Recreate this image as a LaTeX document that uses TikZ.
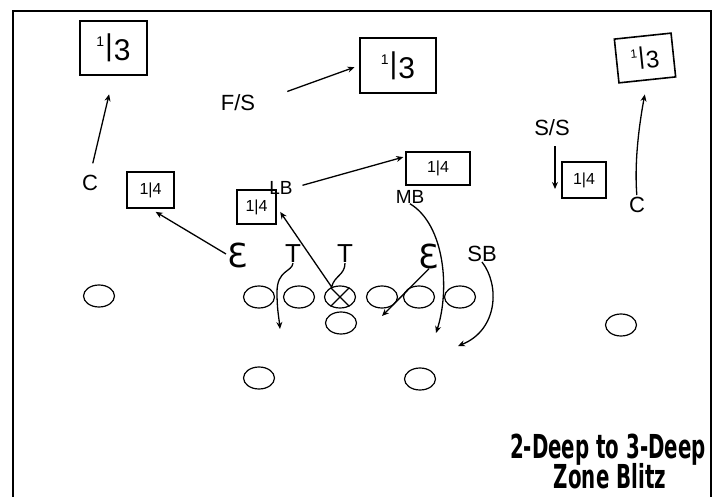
\documentclass[tikz,border=0pt]{standalone}
\usepackage{fontspec}
\setmainfont{Liberation Sans}
\newfontfamily\titlefont{DejaVu Sans}
\newfontfamily\epsfont{DejaVu Sans}
\usetikzlibrary{shapes.geometric,arrows.meta,calc}
\newcommand\myThird{{\fontsize{14}{14}\selectfont\raisebox{9pt}{1}}\kern1pt{\fontsize{30}{30}\selectfont|\kern1pt\raisebox{-5pt}{3}}}
\newcommand\mySmallThird{{\fontsize{12}{12}\selectfont\raisebox{7pt}{1}}\kern1pt{\fontsize{24}{24}\selectfont|\kern1pt\raisebox{-4pt}{3}}}
\newcommand\myQuarter{{\fontsize{16}{16}\selectfont 1|4}}
\begin{document}
\begin{tikzpicture}[x=1pt,y=-1pt,
  zone/.style={draw, line width=1.6pt, inner sep=0pt},
  pl/.style={draw, ellipse, line width=1.2pt, minimum width=31pt, minimum height=22pt, inner sep=0pt},
  hand/.style={inner sep=0pt, font=\fontsize{22}{22}\selectfont},
  arr/.style={line width=1.3pt, -{Stealth[length=7pt,width=6pt]}},
  curv/.style={line width=1.3pt, -{Stealth[length=7pt,width=6pt]}},
  ttl/.style={inner sep=0pt, anchor=base, font=\titlefont\bfseries\fontsize{33}{33}\selectfont}]
\useasboundingbox (0,0) rectangle (712,497);
\fill[white] (0,0) rectangle (712,497);
% frame
\coordinate (f1) at (13,497);
\coordinate (f2) at (13,11);
\coordinate (f3) at (711,11);
\coordinate (f4) at (711,497);
\draw[line width=2pt] (f1) -- (f2) -- (f3) -- (f4);
% zone boxes
\node[zone, minimum width=67pt, minimum height=54pt] (b13L) at (113.5,48) {\myThird};
\node[zone, minimum width=76pt, minimum height=55pt] (b13C) at (398,65.5) {\myThird};
\node[zone, minimum width=57pt, minimum height=44pt, rotate=6] (b13R) at (645,58) {\mySmallThird};
\node[zone, minimum width=47pt, minimum height=36pt] (b14L) at (150.5,190) {\myQuarter};
\node[zone, minimum width=39pt, minimum height=34pt] (b14LB) at (256.5,207) {\myQuarter};
\node[zone, minimum width=64pt, minimum height=33pt] (b14MB) at (438,168.5) {\myQuarter};
\node[zone, minimum width=44pt, minimum height=36pt] (b14SS) at (584,180) {\myQuarter};
% defender labels
\node[hand] (FS) at (238,103) {F/S};
\node[hand] (SS) at (552,128) {S/S};
\node[hand] (CL) at (90,183) {C};
\node[hand] (CR) at (637,205) {C};
\node[hand, font=\fontsize{19}{19}\selectfont] (LB) at (281,188) {LB};
\node[hand, font=\fontsize{19}{19}\selectfont] (MB) at (410,197) {MB};
\node[hand, font=\epsfont\fontsize{33}{33}\selectfont] (EL) at (238,255) {Ɛ};
\node[hand, font=\fontsize{26}{26}\selectfont] (TL) at (293,254) {T};
\node[hand, font=\fontsize{26}{26}\selectfont] (TR) at (345,254) {T};
\node[hand, font=\epsfont\fontsize{33}{33}\selectfont] (ER) at (429,256) {Ɛ};
\node[hand] (SB) at (482,254) {SB};
% offense
\node[pl] (o1) at (99,296) {};
\node[pl] (o2) at (259,297) {};
\node[pl] (o3) at (299,297) {};
\node[pl] (X) at (340,297) {};
\node[pl] (o5) at (382,297) {};
\node[pl] (o6) at (419,297) {};
\node[pl] (o7) at (460,297) {};
\node[pl] (qb) at (341,323) {};
\node[pl] (o9) at (621,325) {};
\node[pl] (rb1) at (259,378) {};
\node[pl] (rb2) at (420,379) {};
\draw[line width=1.2pt] (X.45) -- (X.225) (X.135) -- (X.315);
% free ends
\coordinate (tlEnd) at (280,329);
\coordinate (erEnd) at (382,316);
\coordinate (mbEnd) at (436,333);
\coordinate (sbEnd) at (458,346);
\coordinate (ssEnd) at (555,189);
% connectors
\draw[arr, shorten <=12pt, shorten >=19pt] (CL.north) -- (b13L.south);
\draw[arr, shorten <=34pt, shorten >=5pt] (FS.east) -- (b13C.west);
\draw[arr, shorten <=2pt, shorten >=6pt] (EL.west) -- (b14L.south);
\draw[arr, shorten <=10pt, shorten >=2pt] (LB.east) -- (b14MB.160);
\draw[arr] ([shift={(3,10)}]SS.south) -- (ssEnd);
\draw[arr, shorten <=2pt, shorten >=14pt] (CR.north) .. controls (634,160) and (640,120) .. (b13R.south);
\draw[curv] (TL.south) .. controls (292,272) and (277,270) .. (277,292) .. controls (277,310) and (279,318) .. (tlEnd);
\draw[arr, shorten >=6pt] (TR.south) .. controls (345,275) and (334,276) .. (X.130) -- (b14LB.east);
\draw[arr] (ER.south) -- (erEnd);
\draw[curv] (MB.south) .. controls (445,225) and (450,290) .. (mbEnd);
\draw[curv] (SB.south) .. controls (500,285) and (498,330) .. (sbEnd);
% title
\node[ttl] (title1) at (608,458) {\scalebox{0.6}[1]{2-Deep to 3-Deep}};
\node[ttl] (title2) at (610,488) {\scalebox{0.6}[1]{Zone Blitz}};
\end{tikzpicture}
\end{document}
